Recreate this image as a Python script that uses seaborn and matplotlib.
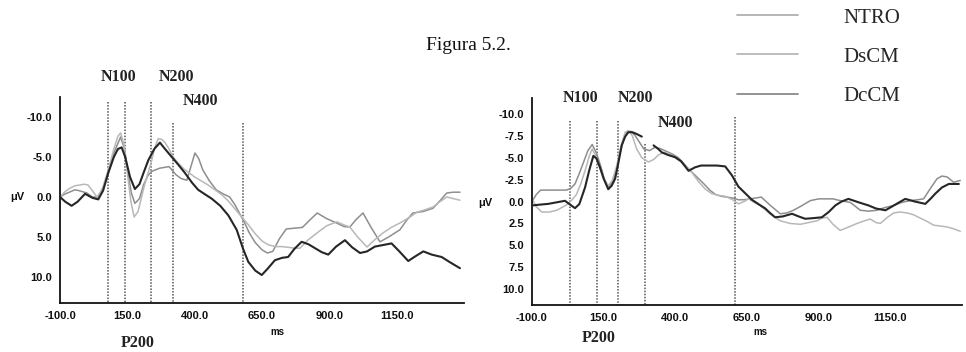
import numpy as np
import pandas as pd
import matplotlib
matplotlib.use("Agg")
import matplotlib.pyplot as plt
from matplotlib.lines import Line2D
import seaborn as sns

# ---------------- data ----------------
series_names = ["NTRO", "DsCM", "DcCM"]
series_colors = {"NTRO": "#8e8e8e", "DsCM": "#b8b8b8", "DcCM": "#262626"}
legend_colors = ["#b0b0b0", "#b8b8b8", "#8a8a8a"]

# Left panel
L_ntro_t = [-100, -80, -65, -45, -30, -10, 0, 20, 40, 60, 80, 100, 125, 140, 150, 165, 178, 195,
            210, 225, 240, 270, 305, 330, 350, 371, 386, 401, 415, 430, 455, 480, 505, 530, 550,
            566, 585, 603, 625, 650, 670, 690, 715, 740, 770, 800, 830, 855, 890, 930, 955, 976,
            1000, 1025, 1055, 1088, 1120, 1162, 1185, 1210, 1250, 1285, 1310, 1336, 1360, 1385]
L_ntro_v = [0, -0.4, -0.6, -0.9, -0.8, -0.6, -0.5, 0, 0, -1.2, -3.0, -5.5, -7.5, -6.0, -3.5,
            -0.5, 0.8, 0.2, -1.5, -2.6, -3.2, -3.6, -3.8, -2.8, -2.3, -2.1, -3.8, -5.5, -4.8,
            -3.4, -2.0, -0.9, -0.4, 0.0, 1.0, 2.0, 3.2, 4.5, 5.7, 6.6, 7.0, 6.8, 5.2, 4.0, 3.9,
            3.8, 2.8, 2.0, 2.7, 3.3, 3.7, 3.75, 2.8, 2.0, 3.8, 5.6, 5.0, 4.1, 3.0, 2.0, 1.8, 1.4,
            0.5, -0.5, -0.6, -0.6]
L_dscm_t = [-100, -80, -63, -45, -26, -10, 4, 20, 37, 55, 80, 100, 115, 125, 138, 150, 163, 175,
            190, 210, 225, 240, 252, 265, 278, 290, 305, 320, 340, 360, 380, 400, 425, 450, 475,
            500, 525, 550, 575, 600, 625, 650, 675, 700, 725, 750, 770, 791, 820, 854, 890, 928,
            955, 976, 1005, 1040, 1070, 1099, 1130, 1162, 1195, 1225, 1255, 1285, 1310, 1336,
            1360, 1385]
L_dscm_v = [0, -0.7, -1.1, -1.4, -1.5, -1.6, -1.5, -0.8, 0, -0.8, -3.5, -6.0, -7.6, -8.0, -6.5,
            -3.0, 0.5, 2.5, 1.8, -1.0, -2.8, -4.5, -6.2, -7.3, -7.2, -6.8, -6.0, -5.0, -4.2, -3.5,
            -3.0, -2.5, -2.0, -1.5, -0.9, -0.3, 0.5, 1.5, 2.5, 3.5, 4.6, 5.5, 6.0, 6.2, 6.2, 6.3,
            6.4, 6.4, 5.4, 4.5, 3.6, 3.1, 3.5, 3.75, 5.0, 6.25, 5.3, 4.5, 3.8, 3.25, 2.6, 1.9,
            1.6, 1.25, 0.6, 0.0, 0.2, 0.4]
L_dccm_t = [-100, -80, -57, -35, -7, 20, 42, 60, 79, 100, 115, 129, 142, 160, 178, 195, 210, 228,
            250, 271, 290, 315, 340, 364, 390, 413, 440, 463, 495, 525, 556, 580, 599, 625, 649,
            670, 698, 725, 747, 770, 797, 822, 847, 872, 896, 925, 958, 985, 1014, 1040, 1069,
            1100, 1131, 1160, 1193, 1220, 1249, 1280, 1317, 1350, 1385]
L_dccm_v = [0, 0.6, 1.1, 0.6, -0.4, 0.1, 0.3, -0.8, -3.0, -5.0, -6.0, -6.2, -5.0, -2.5, -1.0,
            -1.6, -3.0, -4.6, -6.0, -6.8, -6.0, -5.0, -4.0, -3.0, -1.8, -0.9, -0.3, 0.2, 1.1, 2.3,
            4.1, 6.5, 8.1, 9.2, 9.75, 9.0, 7.9, 7.6, 7.5, 6.5, 5.6, 5.9, 6.4, 6.9, 7.2, 6.2, 5.4,
            6.3, 7.0, 6.8, 6.2, 6.0, 5.8, 6.8, 8.0, 7.4, 6.8, 7.2, 7.5, 8.2, 8.9]

# Right panel
R_ntro_t = [-100, -85, -70, -30, 20, 35, 50, 65, 80, 95, 110, 125, 140, 152, 166, 180, 195, 207,
            220, 232, 245, 258, 270, 290, 310, 330, 350, 370, 390, 410, 430, 450, 475, 500, 520,
            540, 560, 580, 600, 620, 640, 660, 680, 700, 730, 766, 790, 812, 840, 871, 900, 929,
            950, 975, 1010, 1030, 1045, 1075, 1103, 1130, 1162, 1190, 1220, 1245, 1266, 1290,
            1313, 1330, 1348, 1371, 1394]
R_ntro_v = [0.0, -0.8, -1.3, -1.3, -1.3, -1.5, -2.0, -3.2, -4.5, -5.8, -6.5, -5.5, -4.0, -2.6,
            -1.6, -2.2, -3.5, -5.5, -7.2, -7.9, -8.0, -7.6, -7.0, -6.0, -5.8, -6.2, -6.0, -5.7,
            -5.4, -5.0, -4.3, -3.6, -2.8, -2.0, -1.3, -0.8, -0.6, -0.5, -0.4, -0.2, -0.2, -0.3,
            -0.4, -0.5, 0.4, 1.4, 1.3, 1.0, 0.5, -0.1, -0.3, -0.3, -0.3, -0.1, 0.1, 0.6, 1.0, 1.1,
            1.0, 0.7, 0.45, 0.1, -0.1, -0.2, -0.3, -1.5, -2.6, -2.9, -2.8, -2.2, -2.4]
R_dscm_t = [-100, -85, -66, -40, -14, 20, 40, 55, 70, 85, 100, 110, 122, 140, 152, 166, 180, 195,
            210, 225, 237, 250, 265, 283, 306, 325, 341, 360, 376, 400, 420, 440, 458, 480, 505,
            527, 550, 574, 600, 620, 640, 655, 675, 696, 730, 766, 800, 836, 865, 894, 910, 929,
            950, 975, 1005, 1034, 1060, 1080, 1100, 1115, 1140, 1162, 1185, 1208, 1230, 1255,
            1280, 1301, 1325, 1348, 1370, 1394]
R_dscm_v = [-0.3, 0.6, 1.2, 1.2, 1.0, 0.4, -0.2, -0.8, -2.0, -3.5, -5.2, -6.0, -5.2, -3.5, -2.5,
            -1.8, -2.4, -4.0, -6.3, -7.9, -8.1, -7.5, -6.0, -5.0, -4.5, -4.8, -5.3, -5.6, -5.5,
            -5.0, -4.5, -3.9, -3.3, -2.3, -1.4, -0.9, -0.7, -0.6, -0.2, 0.27, 0.0, -0.3, 0.1,
            0.45, 1.4, 2.2, 2.5, 2.6, 2.4, 2.2, 1.9, 1.8, 2.6, 3.3, 2.9, 2.5, 2.2, 2.0, 2.4, 2.5,
            1.8, 1.3, 1.2, 1.3, 1.5, 1.9, 2.3, 2.7, 2.8, 2.9, 3.1, 3.4]
R_dccm_t = [-100, -70, -43, -15, 15, 35, 50, 65, 85, 100, 114, 125, 137, 150, 166, 178, 190, 200,
            213, 225, 236, 250, 265, 283, 324, 340, 353, 375, 399, 420, 446, 469, 490, 516, 545,
            574, 597, 620, 645, 667, 690, 714, 730, 748, 775, 807, 830, 853, 880, 911, 935, 958,
            980, 1004, 1040, 1074, 1100, 1133, 1165, 1202, 1235, 1272, 1290, 1307, 1330, 1354,
            1389]
R_dccm_v = [0.45, 0.35, 0.27, 0.1, -0.08, 0.4, 0.76, 0.3, -1.6, -3.6, -5.2, -4.9, -3.9, -2.6,
            -1.4, -1.8, -2.6, -4.2, -6.4, -7.4, -7.9, -7.9, -7.7, -7.4, -6.4, -6.0, -5.6, -5.3,
            -5.05, -4.6, -3.5, -3.9, -4.1, -4.1, -4.1, -4.0, -3.0, -1.7, -0.9, -0.2, 0.3, 0.8,
            1.3, 1.8, 1.7, 1.4, 1.7, 1.97, 1.9, 1.8, 1.2, 0.45, 0.0, -0.3, 0.1, 0.45, 0.8, 1.0,
            0.4, -0.3, 0.0, 0.27, -0.3, -0.9, -1.6, -2.0, -2.0]
R_dccm_gap_after = 283  # trace is interrupted between 283 and 324 ms

# component markers
L_marker_t = [79, 140, 239, 319, 578]
L_marker_top = [-11.9, -11.9, -11.9, -9.2, -9.2]
R_marker_t = [33, 126, 201, 295, 609]
R_marker_top = [-9.2, -9.2, -9.2, -6.5, -9.6]

x_ticks = [-100, 150, 400, 650, 900, 1150]
L_y_ticks = [-10, -5, 0, 5, 10]
R_y_ticks = [-10, -7.5, -5, -2.5, 0, 2.5, 5, 7.5, 10]

L_labels = [("N100", 119, -15.0), ("N200", 331, -15.0), ("N400", 423, -12.0), ("P200", 190, 18.2)]
R_labels = [("N100", 68, -11.8), ("N200", 260, -11.8), ("N400", 399, -9.0), ("P200", 134, 15.6)]


def build_frame(t_lists, v_lists, gap=None):
    rows = []
    for name, t, v in zip(series_names, t_lists, v_lists):
        for ti, vi in zip(t, v):
            seg = 0
            if gap is not None and name == "DcCM" and ti > gap:
                seg = 1
            rows.append({"series": name, "unit": f"{name}_{seg}", "ms": ti, "uV": vi})
    return pd.DataFrame(rows)


dfL = build_frame([L_ntro_t, L_dscm_t, L_dccm_t], [L_ntro_v, L_dscm_v, L_dccm_v])
dfR = build_frame([R_ntro_t, R_dscm_t, R_dccm_t], [R_ntro_v, R_dscm_v, R_dccm_v],
                  gap=R_dccm_gap_after)

# ---------------- figure ----------------
sns.set_style("white")
plt.rcParams["font.family"] = ["Liberation Sans", "DejaVu Sans"]
W, H = 966, 352
fig = plt.figure(figsize=(W / 100, H / 100), dpi=100)

axL = fig.add_axes([60 / W, 1 - 303 / H, 404 / W, 206 / H])
axR = fig.add_axes([532 / W, 1 - 305 / H, 430 / W, 207 / H])

serif = ["Liberation Serif", "DejaVu Serif"]


def style_axes(ax, df, ylim, yticks, markers_t, markers_top, labels, ms_xy, uv_xy):
    for name in series_names:
        sub = df[df.series == name]
        sns.lineplot(data=sub, x="ms", y="uV", units="unit", estimator=None, sort=False,
                     color=series_colors[name], lw=1.5 if name == "DcCM" else 1.1,
                     ax=ax, legend=False, zorder=3 if name == "DcCM" else 2)
    ax.vlines(markers_t, markers_top, ylim[0], colors="#555555", linestyles=(0, (1, 1)),
              lw=1.1, zorder=1)
    ax.set_xlim(-100, 1400)
    ax.set_ylim(*ylim)
    ax.set_xticks(x_ticks, labels=[f"{t:.1f}" for t in x_ticks])
    ax.set_yticks(yticks, labels=[f"{t:.1f}" for t in yticks])
    ax.set_xticks([1400], minor=True)
    ax.set_yticks([ylim[1]], minor=True)
    ax.tick_params(which="major", direction="out", length=4, width=1.1, color="#111111",
                   labelsize=8, pad=1.5, labelcolor="#111111")
    ax.tick_params(which="minor", direction="in", length=5, width=1.1, color="#111111")
    for lab in ax.get_xticklabels() + ax.get_yticklabels():
        lab.set_fontweight("bold")
    for s in ("top", "right"):
        ax.spines[s].set_visible(False)
    for s in ("left", "bottom"):
        ax.spines[s].set_color("#111111")
        ax.spines[s].set_linewidth(1.3)
    ax.set_xlabel("ms", fontsize=7, color="#111111", fontweight="bold")
    ax.xaxis.set_label_coords(*ms_xy)
    ax.set_ylabel("μV", rotation=0, ha="center", va="center", fontsize=8, color="#111111",
                  fontweight="bold")
    ax.yaxis.set_label_coords(*uv_xy)
    for txt, x, y in labels:
        ax.text(x, y, txt, ha="center", va="center", fontsize=11.5, family=serif,
                fontweight="bold", color="#222222", clip_on=False)
    ax.set_facecolor("white")


style_axes(axL, dfL, (13.25, -12.5), L_y_ticks, L_marker_t, L_marker_top, L_labels,
           (0.537, -0.117), (-0.106, 0.515))
style_axes(axR, dfR, (11.8, -11.8), R_y_ticks, R_marker_t, R_marker_top, R_labels,
           (0.53, -0.106), (-0.109, 0.493))

fig.text(468 / W, 1 - 45 / H, "Figura 5.2.", ha="center", va="center", fontsize=14,
         family=serif, color="#111111")

handles = [Line2D([], [], color=c, lw=1.3) for c in legend_colors]
fig.legend(handles, series_names, loc="upper left", bbox_to_anchor=(737 / W, 1 - 8 / H),
           frameon=False, handlelength=2.93, handletextpad=2.16, labelspacing=0.94,
           borderpad=0, borderaxespad=0, prop={"family": serif, "size": 15})

fig.savefig("out.png", dpi=100, facecolor="white")
